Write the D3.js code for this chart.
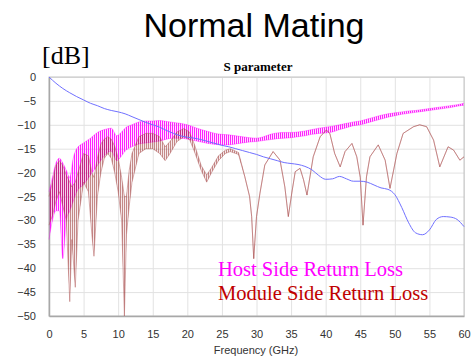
<!DOCTYPE html>
<html>
<head>
<meta charset="utf-8">
<script src="https://cdn.jsdelivr.net/npm/d3@7"></script>
<style>
  body { margin: 0; background: #fff; }
  .tick text { font-family: Arial, "Liberation Sans", sans-serif; font-size: 11px; fill: #333; }
</style>
</head>
<body>
<div id="chart"></div>
<script>
// ---- data ----
const xTicks = [0, 5, 10, 15, 20, 25, 30, 35, 40, 45, 50, 55, 60];
const yTicks = [0, -5, -10, -15, -20, -25, -30, -35, -40, -45, -50];

// blue trace (no legend entry)
const lossFreq = [0, 1, 2, 3, 4, 5, 6, 7, 8, 9, 10, 11, 12, 13, 14, 15, 16, 17, 18, 19, 20,
  21, 22, 23, 24, 25, 26, 27, 28, 29, 30, 31, 32, 33, 34, 35, 36, 37, 38, 39, 40,
  41, 42, 43, 44, 45, 46, 47, 48, 49, 50, 51, 52, 53, 54, 55, 56, 57, 58, 59, 60];
const lossValues = [0, -1.3, -2.4, -3.3, -4.1, -4.8, -5.5, -6.0, -6.6, -7.0, -7.3, -7.7, -8.3, -8.9, -9.5, -10.0, -10.5, -11.2, -11.8, -12.3, -12.6,
  -12.8, -13.1, -13.5, -13.9, -14.3, -14.6, -15.0, -15.4, -15.8, -16.2, -16.7, -17.1, -17.5, -17.9, -18.1, -18.3, -18.7, -19.4, -20.6, -21.4,
  -21.3, -20.8, -21.3, -21.8, -21.8, -22.0, -22.6, -23.2, -23.5, -24.6, -27.3, -30.5, -32.6, -33.0, -32.0, -29.8, -29.2, -29.3, -29.8, -31.3];

// Host Side Return Loss: upper and lower edge of the rippling band
const hostFreq = [0, 0.5, 1, 1.5, 2, 2.5, 3, 3.5, 4, 5, 6, 7, 8, 9, 9.8, 10.5, 11, 12, 13, 14, 15, 16, 17, 18, 19, 20,
  21, 22, 23, 24, 25, 26, 27, 28, 29, 30, 31, 32, 33, 34, 35, 36, 37, 38, 39, 40,
  41, 42, 43, 44, 45, 46, 47, 48, 49, 50, 51, 52, 53, 54, 55, 56, 57, 58, 59, 60];
const hostTop = [-24, -21, -18, -17, -18, -19.5, -21, -17, -15, -13.8, -12.8, -11.6, -11.0, -10.7, -12.3, -11.5, -10.7, -10.0, -9.4, -9.2, -9.2, -9.1, -9.3, -9.5, -9.7, -10.0,
  -10.5, -11.0, -11.4, -11.8, -12.0, -12.1, -12.3, -12.5, -12.7, -12.8, -12.5, -12.0, -11.7, -11.6, -11.6, -11.5, -11.3, -11.0, -10.7, -10.5,
  -10.3, -10.0, -9.7, -9.4, -9.2, -8.8, -8.4, -8.0, -7.7, -7.5, -7.3, -7.1, -7.0, -6.8, -6.6, -6.4, -6.2, -6.0, -5.8, -5.5];
const hostBottom = [-34, -30, -28, -28, -38, -30, -28, -26, -24, -22.5, -20.5, -18.5, -16.5, -15.5, -17.5, -16.5, -15.5, -14.6, -14.0, -13.8, -13.6, -13.4, -13.0, -12.8, -12.8, -13.0,
  -13.3, -13.6, -13.9, -14.1, -14.2, -14.2, -14.0, -13.8, -13.6, -13.5, -13.3, -13.1, -12.9, -12.8, -12.7, -12.5, -12.3, -12.0, -11.8, -11.7,
  -11.5, -11.0, -10.6, -10.2, -10.0, -9.6, -9.2, -8.8, -8.4, -8.1, -7.8, -7.6, -7.4, -7.2, -7.0, -6.8, -6.6, -6.4, -6.1, -5.9];

// Module Side Return Loss: band below ~28 GHz, single trace above (top == bottom)
const moduleFreq = [0, 0.5, 1, 1.5, 2, 2.5, 3, 3.3, 3.8, 4.2, 5, 5.7, 6.2, 6.5, 7, 7.5, 8, 8.5, 9, 9.5, 10, 10.5, 10.9, 11.2, 11.6, 12,
  13, 14, 15, 16, 16.8, 17.5, 18.5, 19.5, 20.3, 21, 22, 22.8, 23.5, 24.5, 25.5, 26.2, 27.4,
  28.3, 29, 29.3, 29.6, 30, 30.5, 31.2, 32.4, 33.4, 34.1, 34.6, 35.1, 35.6, 36.3, 36.8, 37.3, 38.2, 39.2, 40.1,
  40.6, 41.3, 42.1, 42.8, 43.8, 44.5, 45, 45.4, 45.9, 46.4, 47.6, 48.6, 49.3, 50.3, 51.2, 52.7, 53.6, 54.6,
  55.6, 56.5, 57.7, 58.5, 59.4, 60];
const moduleTop = [-25, -22, -18.5, -17.5, -18.5, -20.5, -22, -23, -22, -20, -16, -16.5, -20, -21, -17, -14, -13, -12.5, -13, -14.5, -17, -21, -25, -25, -19.5, -16,
  -12.5, -11.8, -11.8, -12.5, -14.6, -13.5, -11.5, -10.8, -11.5, -14, -18.5, -20.5, -19, -16.5, -15.3, -15, -15.8,
  -20.8, -25, -29.2, -38, -29.2, -24.3, -18.4, -15.6, -17.4, -23, -29.2, -24.3, -19.8, -19.1, -21.5, -24.7, -16.7, -12.5, -11.1,
  -11.8, -16, -18.8, -15.6, -13.9, -16.7, -21, -31, -20.9, -16.7, -14.2, -17.4, -23.3, -16, -11.8, -10.4, -10, -10.4,
  -13.2, -18.8, -14.6, -15.3, -17.4, -16.7];
const moduleBottom = [-31, -29, -26, -24, -27, -30, -47, -34, -44, -30, -22, -24, -33, -37.5, -25, -20, -17, -16, -17, -20, -24, -30, -50, -33, -27, -22,
  -16, -15, -15, -16, -17.5, -16, -13.5, -12.5, -13, -15.5, -19.5, -22, -20, -17.5, -16, -15.6, -16.2,
  -20.8, -25, -29.2, -38, -29.2, -24.3, -18.4, -15.6, -17.4, -23, -29.2, -24.3, -19.8, -19.1, -21.5, -24.7, -16.7, -12.5, -11.1,
  -11.8, -16, -18.8, -15.6, -13.9, -16.7, -21, -31, -20.9, -16.7, -14.2, -17.4, -23.3, -16, -11.8, -10.4, -10, -10.4,
  -13.2, -18.8, -14.6, -15.3, -17.4, -16.7];

const legendLabels = ['Host Side Return Loss', 'Module Side Return Loss'];
const legendColors = ['#ff00ff', '#c00000'];

// ---- drawing ----
const width = 472;
const height = 360;
const plotLeft = 49, plotRight = 464, plotTop = 77, plotBottom = 316;

const svg = d3.select('#chart').append('svg')
  .attr('width', width)
  .attr('height', height);

const xScale = d3.scaleLinear().domain([0, 60]).range([plotLeft, plotRight]);
const yScale = d3.scaleLinear().domain([0, -50]).range([plotTop, plotBottom]);

// hatch patterns for the dense ripple
const defs = svg.append('defs');
function hatch(id, color) {
  const p = defs.append('pattern')
    .attr('id', id)
    .attr('patternUnits', 'userSpaceOnUse')
    .attr('width', 2)
    .attr('height', 4);
  p.append('rect').attr('x', 0).attr('y', 0).attr('width', 1).attr('height', 4).attr('fill', color);
}
hatch('hostHatch', 'rgba(255,0,255,0.85)');
hatch('moduleHatch', 'rgba(150,40,40,0.5)');

// titles
svg.append('text')
  .attr('x', 254).attr('y', 37)
  .attr('text-anchor', 'middle')
  .style('font-family', 'Arial, "Liberation Sans", sans-serif')
  .style('font-size', '34px')
  .text('Normal Mating');

svg.append('text')
  .attr('x', 42).attr('y', 64)
  .style('font-family', '"Times New Roman", "Liberation Serif", serif')
  .style('font-size', '26px')
  .text('[dB]');

svg.append('text')
  .attr('x', 258).attr('y', 71)
  .attr('text-anchor', 'middle')
  .style('font-family', '"Times New Roman", "Liberation Serif", serif')
  .style('font-size', '13px')
  .style('font-weight', 'bold')
  .text('S parameter');

// grid
const gridX = svg.append('g')
  .attr('transform', 'translate(0,' + plotBottom + ')')
  .call(d3.axisBottom(xScale).tickValues(xTicks).tickSize(-(plotBottom - plotTop)).tickFormat(''));
gridX.select('.domain').remove();
gridX.selectAll('line').attr('stroke', '#e2e2e2');

const gridY = svg.append('g')
  .attr('transform', 'translate(' + plotLeft + ',0)')
  .call(d3.axisLeft(yScale).tickValues(yTicks).tickSize(-(plotRight - plotLeft)).tickFormat(''));
gridY.select('.domain').remove();
gridY.selectAll('line').attr('stroke', '#e2e2e2');

// frame
svg.append('rect')
  .attr('x', plotLeft).attr('y', plotTop)
  .attr('width', plotRight - plotLeft).attr('height', plotBottom - plotTop)
  .attr('fill', 'none')
  .attr('stroke', '#c4c4c4');

// tick labels
const xAxis = svg.append('g')
  .attr('transform', 'translate(0,' + plotBottom + ')')
  .call(d3.axisBottom(xScale).tickValues(xTicks).tickSize(0).tickPadding(14));
xAxis.select('.domain').attr('stroke', '#a8a8a8').attr('stroke-width', 1.5);

const yAxis = svg.append('g')
  .attr('transform', 'translate(' + plotLeft + ',0)')
  .call(d3.axisLeft(yScale).tickValues(yTicks).tickSize(0).tickPadding(13));
yAxis.select('.domain').attr('stroke', '#a8a8a8').attr('stroke-width', 1.5);

svg.append('text')
  .attr('x', 256).attr('y', 354)
  .attr('text-anchor', 'middle')
  .style('font-family', 'Arial, "Liberation Sans", sans-serif')
  .style('font-size', '11px')
  .attr('fill', '#333')
  .text('Frequency (GHz)');

// series
const plot = svg.append('g');

function band(freq, upper, lower, fillColor, hatchId, edgeColor, curve) {
  const idx = d3.range(freq.length);
  const area = d3.area()
    .x(i => xScale(freq[i]))
    .y0(i => yScale(lower[i]))
    .y1(i => yScale(upper[i]))
    .curve(curve);
  plot.append('path').datum(idx).attr('d', area).attr('fill', fillColor);
  plot.append('path').datum(idx).attr('d', area).attr('fill', 'url(#' + hatchId + ')');
  [upper, lower].forEach(function (vals) {
    plot.append('path').datum(idx)
      .attr('d', d3.line().x(i => xScale(freq[i])).y(i => yScale(vals[i])).curve(curve))
      .attr('fill', 'none')
      .attr('stroke', edgeColor)
      .attr('stroke-width', 1);
  });
}

band(hostFreq, hostTop, hostBottom, 'rgba(255,0,255,0.12)', 'hostHatch', 'rgba(255,0,255,0.35)', d3.curveMonotoneX);
band(moduleFreq, moduleTop, moduleBottom, 'rgba(170,80,80,0.12)', 'moduleHatch', 'rgba(170,80,80,0.45)', d3.curveLinear);

plot.append('path')
  .datum(d3.range(lossFreq.length))
  .attr('d', d3.line().x(i => xScale(lossFreq[i])).y(i => yScale(lossValues[i])).curve(d3.curveMonotoneX))
  .attr('fill', 'none')
  .attr('stroke', '#7070ff')
  .attr('stroke-width', 1);

// legend
legendLabels.forEach(function (label, i) {
  svg.append('text')
    .attr('x', 218).attr('y', 276 + i * 24)
    .style('font-family', '"Times New Roman", "Liberation Serif", serif')
    .style('font-size', '20.5px')
    .attr('fill', legendColors[i])
    .text(label);
});
</script>
</body>
</html>
